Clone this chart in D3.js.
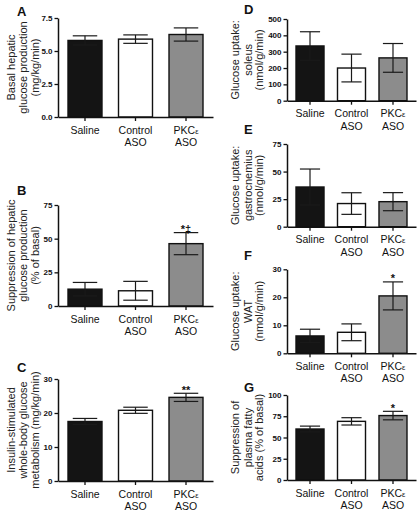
<!DOCTYPE html>
<html><head><meta charset="utf-8">
<script src="https://cdn.jsdelivr.net/npm/d3@7"></script>
<style>
body{margin:0;background:#fff;}
text{font-family:"Liberation Sans",Arial,Helvetica,sans-serif;}
</style></head>
<body><svg id="c" width="419" height="511"></svg>
<script>
// ---- data ----
const categories = ["Saline", "Control ASO", "PKCε ASO"];
const catLine1 = ["Saline", "Control", "PKC"];
const catLine2 = ["", "ASO", "ASO"];
const barColors = ["#141414", "#ffffff", "#8c8c8c"];

const basalHGP = [5.8, 5.9, 6.25];
const basalHGPErr = [0.35, 0.32, 0.5];
const suppHGP = [12.5, 11.3, 46.3];
const suppHGPErr = [5, 7, 8.2];
const wholeBody = [17.5, 20.8, 24.6];
const wholeBodyErr = [0.9, 0.9, 1.2];
const soleus = [335, 200, 262];
const soleusErr = [87, 85, 88];
const gastroc = [36, 21, 22.7];
const gastrocErr = [16.3, 9.8, 8.2];
const wat = [6.2, 7.5, 20.5];
const watErr = [2.4, 3.0, 5.0];
const suppFA = [60, 69, 75.8];
const suppFAErr = [3.4, 4.3, 5.0];

const ticksA = [0, 2.5, 5, 7.5];
const ticksB = [0, 25, 50, 75];
const ticksC = [0, 10, 20, 30];
const ticksD = [0, 100, 200, 300, 400, 500];
const ticksE = [0, 25, 50, 75];
const ticksF = [0, 10, 20, 30];
const ticksG = [0, 25, 50, 75, 100];

const sigB = ["", "", "*‡"];
const sigC = ["", "", "**"];
const sigF = ["", "", "*"];
const sigG = ["", "", "*"];
const noSig = ["", "", ""];

// ---- layout ----
const L = {x0: 58, x1: 213, pi: 0.327, po: 0.198, tx: [10.5, 22.5, 34.5]};
const R = {x0: 287, x1: 416, pi: 0.325, po: 0.217, tx: [235, 247.5, 259]};

const panels = [
  {letter: "A", col: L, lx: 17, ly: 16, y0: 117, yTop: 18, vals: basalHGP, errs: basalHGPErr, ticks: ticksA, fmt: d3.format(".1f"), sig: noSig,
   title: ["Basal hepatic", "glucose production", "(mg/kg/min)"]},
  {letter: "B", col: L, lx: 17, ly: 195, y0: 306, yTop: 205, vals: suppHGP, errs: suppHGPErr, ticks: ticksB, fmt: d3.format("d"), sig: sigB,
   title: ["Suppression of hepatic", "glucose production", "(% of basal)"]},
  {letter: "C", col: L, lx: 17, ly: 372, y0: 481, yTop: 379, vals: wholeBody, errs: wholeBodyErr, ticks: ticksC, fmt: d3.format("d"), sig: sigC,
   title: ["Insulin-stimulated", "whole-body glucose", "metabolism (mg/kg/min)"]},
  {letter: "D", col: R, lx: 244, ly: 14, y0: 100.7, yTop: 19, vals: soleus, errs: soleusErr, ticks: ticksD, fmt: d3.format("d"), sig: noSig,
   title: ["Glucose uptake:", "soleus", "(nmol/g/min)"]},
  {letter: "E", col: R, lx: 244, ly: 134, y0: 226.7, yTop: 144, vals: gastroc, errs: gastrocErr, ticks: ticksE, fmt: d3.format("d"), sig: noSig,
   title: ["Glucose uptake:", "gastrocnemius", "(nmol/g/min)"]},
  {letter: "F", col: R, lx: 244, ly: 260, y0: 353.3, yTop: 269.3, vals: wat, errs: watErr, ticks: ticksF, fmt: d3.format("d"), sig: sigF,
   title: ["Glucose uptake:", "WAT", "(nmol/g/min)"]},
  {letter: "G", col: R, lx: 244, ly: 392, y0: 480, yTop: 395, vals: suppFA, errs: suppFAErr, ticks: ticksG, fmt: d3.format("d"), sig: sigG,
   title: ["Suppression of", "plasma fatty", "acids (% of basal)"]}
];

const svg = d3.select("#c");

panels.forEach(p => {
  const g = svg.append("g");
  const c = p.col;
  const y = d3.scaleLinear().domain([0, d3.max(p.ticks)]).range([p.y0, p.yTop]);
  const x = d3.scaleBand().domain(categories).range([c.x0, c.x1]).paddingInner(c.pi).paddingOuter(c.po);
  const bw = x.bandwidth();
  const cap = bw * 0.36;
  const data = categories.map((k, i) => ({k, i, v: p.vals[i], e: p.errs[i]}));

  // bars
  g.selectAll("rect.bar").data(data).join("rect")
    .attr("x", d => x(d.k)).attr("y", d => y(d.v))
    .attr("width", bw).attr("height", d => y(0) - y(d.v))
    .attr("fill", d => barColors[d.i]).attr("stroke", "#111").attr("stroke-width", 1.4);

  // error bars
  const eb = g.selectAll("g.err").data(data).join("g").attr("stroke", "#1a1a1a").attr("stroke-width", 1.2);
  eb.append("line").attr("x1", d => x(d.k) + bw / 2).attr("x2", d => x(d.k) + bw / 2)
    .attr("y1", d => y(d.v - d.e)).attr("y2", d => y(d.v + d.e));
  eb.append("line").attr("x1", d => x(d.k) + bw / 2 - cap).attr("x2", d => x(d.k) + bw / 2 + cap)
    .attr("y1", d => y(d.v + d.e)).attr("y2", d => y(d.v + d.e));
  eb.append("line").attr("x1", d => x(d.k) + bw / 2 - cap).attr("x2", d => x(d.k) + bw / 2 + cap)
    .attr("y1", d => y(d.v - d.e)).attr("y2", d => y(d.v - d.e));

  // significance marks
  g.selectAll("text.sig").data(data.filter(d => p.sig[d.i])).join("text")
    .attr("x", d => x(d.k) + bw / 2).attr("y", d => y(d.v + d.e) + 0.5)
    .attr("text-anchor", "middle").attr("font-size", 11).attr("font-weight", "bold").attr("fill", "#111")
    .text(d => p.sig[d.i]);

  // y axis
  const ya = g.append("g").attr("transform", `translate(${c.x0},0)`)
    .call(d3.axisLeft(y).tickValues(p.ticks).tickSize(3.5).tickSizeOuter(0).tickFormat(p.fmt).tickPadding(2));
  ya.select(".domain").attr("stroke", "#111").attr("stroke-width", 1.5);
  ya.selectAll(".tick line").attr("stroke", "#111").attr("stroke-width", 1.3);
  ya.selectAll(".tick text").attr("font-size", 8).attr("font-weight", "bold").attr("fill", "#111")
    .attr("font-family", '"Liberation Sans",Arial,sans-serif');

  // x axis
  const xa = g.append("g").attr("transform", `translate(0,${p.y0})`)
    .call(d3.axisBottom(x).tickSize(4).tickSizeOuter(0).tickFormat(""));
  xa.select(".domain").attr("stroke", "#111").attr("stroke-width", 1.5);
  xa.selectAll(".tick line").attr("stroke", "#111").attr("stroke-width", 1.3);

  // category labels
  const lab = g.selectAll("text.cat").data(data).join("text")
    .attr("text-anchor", "middle").attr("font-size", 10.5).attr("fill", "#111");
  lab.append("tspan").attr("x", d => x(d.k) + bw / 2).attr("y", p.y0 + 16.5)
    .text(d => catLine1[d.i])
    .filter(d => d.i === 2).append("tspan").attr("font-size", 7.5).text("ε");
  lab.append("tspan").attr("x", d => x(d.k) + bw / 2).attr("y", p.y0 + 29)
    .text(d => catLine2[d.i]);

  // axis title
  const cy = (p.y0 + p.yTop) / 2;
  p.title.forEach((t, i) => {
    g.append("text").attr("transform", `translate(${c.tx[i]},${cy}) rotate(-90)`)
      .attr("text-anchor", "middle").attr("dominant-baseline", "central")
      .attr("font-size", 11).attr("fill", "#222").text(t);
  });

  // panel letter
  g.append("text").attr("x", p.lx).attr("y", p.ly).attr("font-size", 13).attr("font-weight", "bold")
    .attr("fill", "#111").text(p.letter);
});
</script>
</body></html>
